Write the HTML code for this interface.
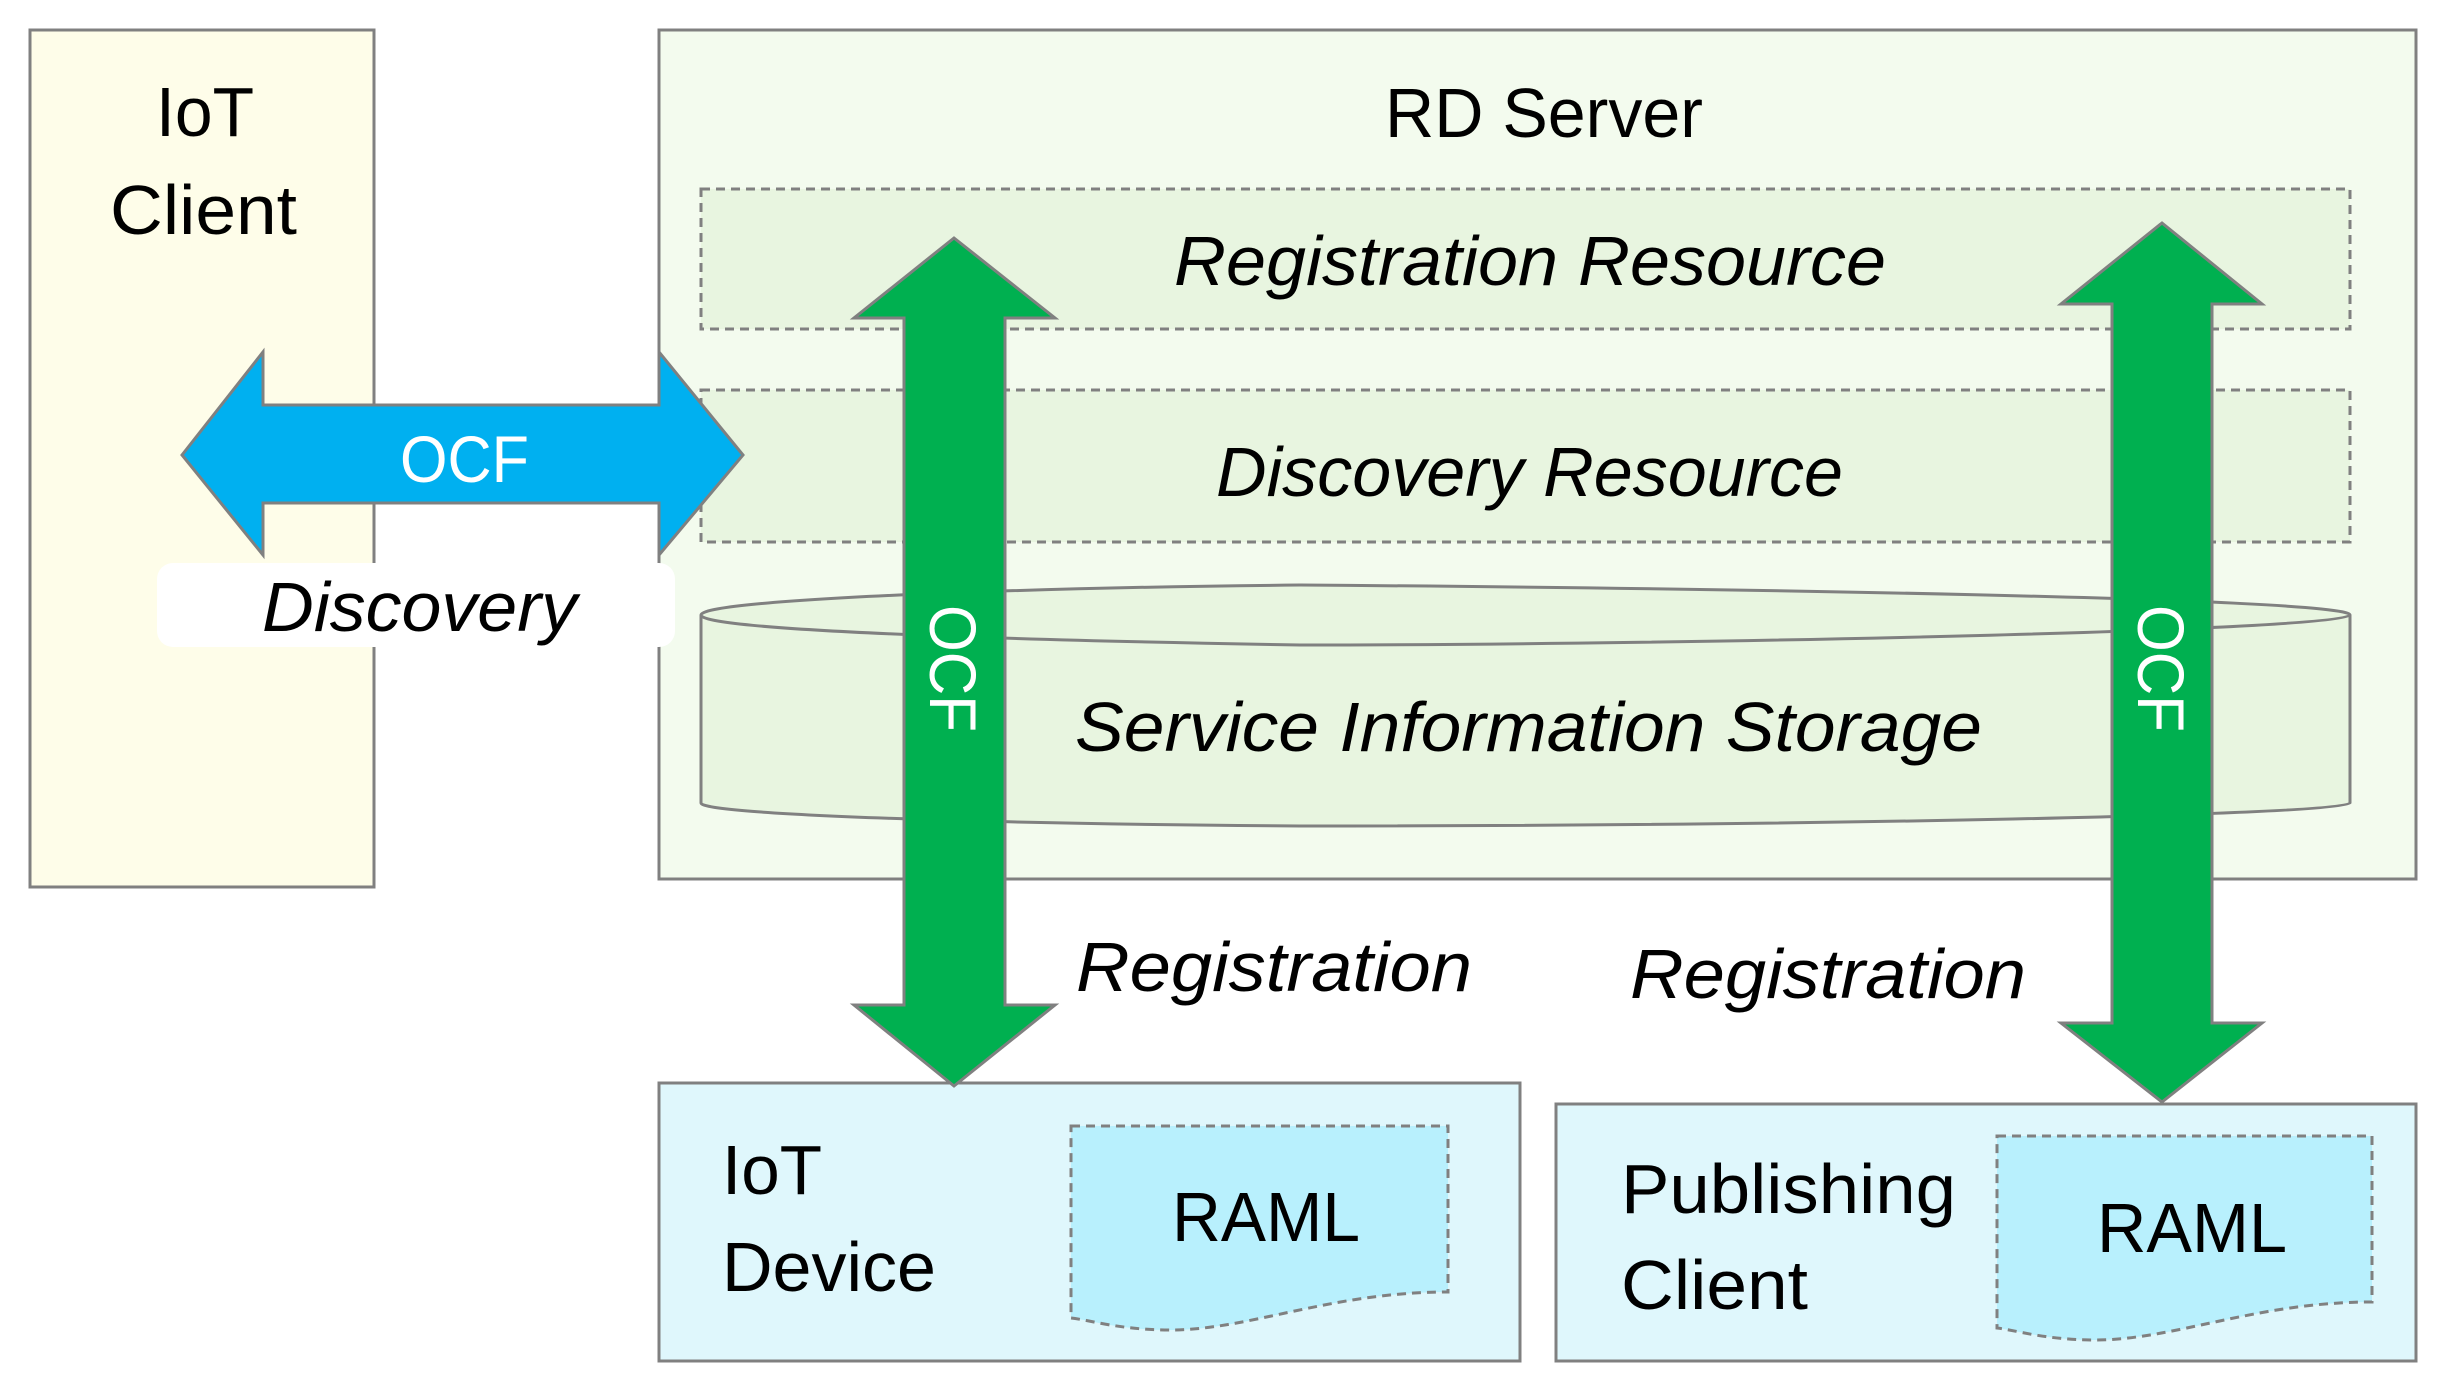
<!DOCTYPE html>
<html><head><meta charset="utf-8"><style>html,body{margin:0;padding:0;background:#fff}svg{display:block}text{font-family:"Liberation Sans",sans-serif}</style></head><body>
<svg width="2444" height="1393" viewBox="0 0 2444 1393" xmlns="http://www.w3.org/2000/svg">
<g stroke="#808080" stroke-width="3">
<rect x="30" y="30" width="344" height="857" fill="#fefde9"/>
<rect x="659" y="30" width="1757" height="849" fill="#f3fbee"/>
<rect x="701" y="189" width="1649" height="140" fill="#e8f5e0" stroke-dasharray="9,6"/>
<rect x="701" y="390" width="1649" height="152" fill="#e8f5e0" stroke-dasharray="9,6"/>
<path d="M701 615 C701 600 1000 588 1300 585 C1700 588 2350 598 2350 615 L2350 803 C2350 815 1800 826 1300 826 C1000 824 701 815 701 803 Z" fill="#e8f5e0"/>
<path d="M701 615 C701 630 1000 640 1300 645 C1700 645 2350 630 2350 615" fill="none"/>
<rect x="659" y="1083" width="861" height="278" fill="#dff7fc"/>
<rect x="1556" y="1104" width="860" height="257" fill="#dff7fc"/>
<path d="M1071 1126 L1448 1126 L1448 1292 C1330 1292 1250 1330 1170 1330 C1120 1330 1090 1320 1071 1318 Z" fill="#b8f0fd" stroke-dasharray="9,6"/>
<path d="M1997 1136 L2372 1136 L2372 1302 C2255 1302 2175 1340 2095 1340 C2045 1340 2015 1330 1997 1328 Z" fill="#b8f0fd" stroke-dasharray="9,6"/>
</g>
<rect x="157" y="563" width="518" height="84" rx="16" fill="#fff"/>
<path d="M182 455 L263 352 L263 405 L659 405 L659 352 L743 455 L659 555 L659 503 L263 503 L263 555 Z" fill="#00b0f0" stroke="#808080" stroke-width="3"/>
<path d="M954 238 L1055 318 L1005 318 L1005 1005 L1055 1005 L954 1086 L854 1005 L904 1005 L904 318 L854 318 Z" fill="#00b050" stroke="#808080" stroke-width="3"/>
<path d="M2162 223 L2262 304 L2212 304 L2212 1023 L2262 1023 L2162 1102 L2061 1023 L2112 1023 L2112 304 L2061 304 Z" fill="#00b050" stroke="#808080" stroke-width="3"/>
<g font-size="70" fill="#000">
<text x="156" y="136" textLength="98" lengthAdjust="spacingAndGlyphs">IoT</text>
<text x="110" y="234" textLength="187" lengthAdjust="spacingAndGlyphs">Client</text>
<text x="1385" y="137" textLength="318" lengthAdjust="spacingAndGlyphs">RD Server</text>
<text x="722" y="1194" textLength="100" lengthAdjust="spacingAndGlyphs">IoT</text>
<text x="722" y="1291" textLength="214" lengthAdjust="spacingAndGlyphs">Device</text>
<text x="1621" y="1213" textLength="335" lengthAdjust="spacingAndGlyphs">Publishing</text>
<text x="1621" y="1309" textLength="187" lengthAdjust="spacingAndGlyphs">Client</text>
<text x="1172" y="1241" textLength="188" lengthAdjust="spacingAndGlyphs">RAML</text>
<text x="2097" y="1252" textLength="190" lengthAdjust="spacingAndGlyphs">RAML</text>
</g>
<g font-size="70" font-style="italic" fill="#000">
<text x="1174" y="285" textLength="712" lengthAdjust="spacingAndGlyphs">Registration Resource</text>
<text x="1216" y="496" textLength="627" lengthAdjust="spacingAndGlyphs">Discovery Resource</text>
<text x="1075" y="751" textLength="907" lengthAdjust="spacingAndGlyphs">Service Information Storage</text>
<text x="262" y="631" textLength="315" lengthAdjust="spacingAndGlyphs">Discovery</text>
<text x="1076" y="991" textLength="396" lengthAdjust="spacingAndGlyphs">Registration</text>
<text x="1630" y="998" textLength="396" lengthAdjust="spacingAndGlyphs">Registration</text>
</g>
<g font-size="66" fill="#fff">
<text x="400" y="482" textLength="129" lengthAdjust="spacingAndGlyphs">OCF</text>
<text transform="translate(930 605) rotate(90)" x="0" y="0" textLength="127" lengthAdjust="spacingAndGlyphs">OCF</text>
<text transform="translate(2138 605) rotate(90)" x="0" y="0" textLength="127" lengthAdjust="spacingAndGlyphs">OCF</text>
</g>
</svg>
</body></html>
